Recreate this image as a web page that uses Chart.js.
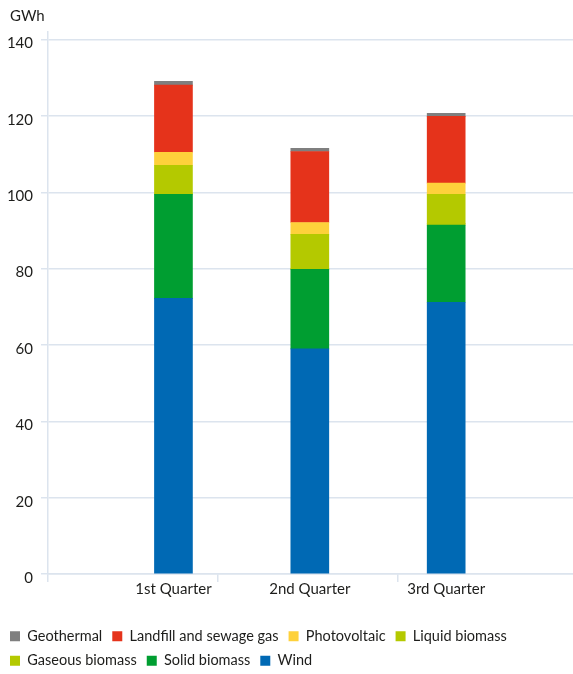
<!DOCTYPE html>
<html>
<head>
<meta charset="utf-8">
<style>
  html, body { margin: 0; padding: 0; background: #fff; }
  #wrap { width: 573px; height: 674px; }
</style>
<script src="https://cdn.jsdelivr.net/npm/chart.js@4/dist/chart.umd.min.js"></script>
</head>
<body>
<div id="wrap"><canvas id="energyChart"></canvas></div>
<script>
// GWh per quarter, stacked from the bottom up
const quarters = ["1st Quarter", "2nd Quarter", "3rd Quarter"];
const wind = [72.2, 59.0, 71.2];
const solidBiomass = [27.3, 20.8, 20.2];
const gaseousBiomass = [0.2, 0.2, 0.4];
const liquidBiomass = [7.4, 9.0, 7.7];
const photovoltaic = [3.4, 3.1, 2.9];
const landfillGas = [17.6, 18.6, 17.5];
const geothermal = [1.0, 0.8, 0.8];

const yTicks = [0, 20, 40, 60, 80, 100, 120, 140];
// short marks under the axis between the quarters
const xDividers = [0.08, 1.325, 2.645];

const gridColor = "#dce4ee";
const textColor = "#1d1d1b";

Chart.defaults.font.family = "Lato, 'Open Sans', sans-serif";
Chart.defaults.color = textColor;

function series(label, values, color) {
    return {
        label,
        data: values.map((v, i) => ({ x: i + 1, y: v })),
        backgroundColor: color,
        borderWidth: 0,
        barThickness: 38
    };
}

function isDivider(ctx) {
    return !!ctx.tick && !Number.isInteger(ctx.tick.value);
}

const unitLabel = {
    id: "unitLabel",
    afterDraw(chart) {
        const { ctx } = chart;
        ctx.save();
        ctx.font = "15px Lato, sans-serif";
        ctx.fillStyle = textColor;
        ctx.textBaseline = "middle";
        ctx.fillText("GWh", 10, 16);
        ctx.restore();
    }
};

new Chart(document.getElementById("energyChart"), {
    type: "bar",
    data: {
        datasets: [
            series("Wind", wind, "#0069b4"),
            series("Solid biomass", solidBiomass, "#009e31"),
            series("Gaseous biomass", gaseousBiomass, "#b4c900"),
            series("Liquid biomass", liquidBiomass, "#b4c900"),
            series("Photovoltaic", photovoltaic, "#fed13b"),
            series("Landfill and sewage gas", landfillGas, "#e5331b"),
            series("Geothermal", geothermal, "#7f7f7f")
        ]
    },
    options: {
        responsive: true,
        maintainAspectRatio: false,
        animation: false,
        layout: {
            padding: { top: 32, left: 0, right: 0, bottom: -4 }
        },
        plugins: {
            tooltip: { enabled: false },
            legend: {
                position: "bottom",
                align: "start",
                reverse: true,
                labels: {
                    boxWidth: 10,
                    boxHeight: 10,
                    padding: 10,
                    color: textColor,
                    font: { size: 14.5 }
                }
            }
        },
        scales: {
            x: {
                type: "linear",
                stacked: true,
                offset: false,
                min: 0.08,
                max: 3.93,
                afterBuildTicks: scale => {
                    scale.ticks = [...xDividers, 1, 2, 3]
                        .sort((a, b) => a - b)
                        .map(value => ({ value }));
                },
                afterFit: scale => {
                    scale.height = 45;
                },
                grid: {
                    offset: false,
                    drawOnChartArea: false,
                    tickLength: 8,
                    color: gridColor,
                    lineWidth: 1.5,
                    tickColor: ctx => isDivider(ctx) ? gridColor : "rgba(0,0,0,0)"
                },
                border: { color: gridColor, width: 1.5 },
                ticks: {
                    autoSkip: false,
                    maxRotation: 0,
                    padding: 0,
                    color: textColor,
                    font: { size: 15, lineHeight: 1 },
                    callback: value => quarters[value - 1] || ""
                }
            },
            y: {
                stacked: true,
                min: 0,
                max: 142,
                afterBuildTicks: scale => {
                    scale.ticks = yTicks.map(value => ({ value }));
                },
                afterFit: scale => {
                    scale.width = 48;
                },
                grid: {
                    color: gridColor,
                    lineWidth: 1.5,
                    tickLength: 7
                },
                border: { color: gridColor, width: 1.5 },
                ticks: {
                    padding: 8,
                    labelOffset: 4,
                    color: textColor,
                    font: { size: 15 }
                }
            }
        }
    },
    plugins: [unitLabel]
});
</script>
</body>
</html>
